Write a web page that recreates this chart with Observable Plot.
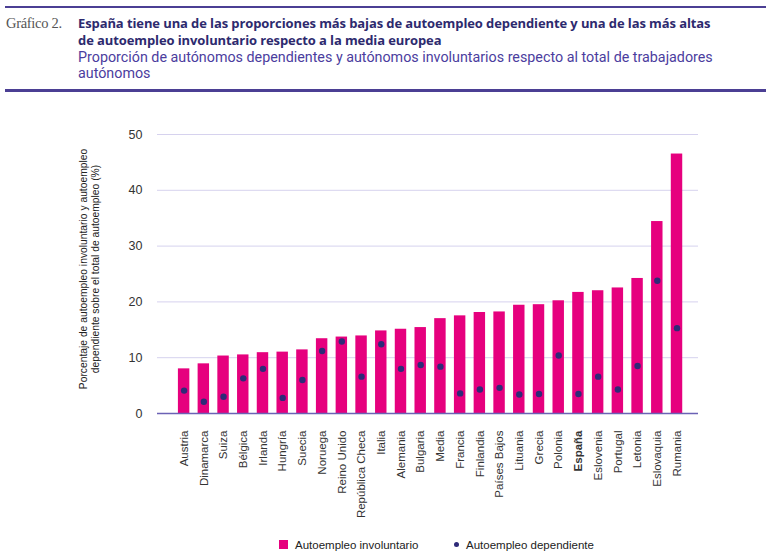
<!DOCTYPE html>
<html>
<head>
<meta charset="utf-8">
<script src="https://cdn.jsdelivr.net/npm/d3@7"></script>
<script src="https://cdn.jsdelivr.net/npm/@observablehq/plot@0.6"></script>
<style>
  html, body { margin: 0; padding: 0; background: #fff; }
  #wrap { position: relative; width: 768px; height: 559px; overflow: hidden; font-family: "Liberation Sans", Arial, sans-serif; }
  .rule { position: absolute; left: 5px; width: 761px; background: #4b3f94; }
  #kicker { position: absolute; left: 6px; top: 15px; font-family: "Liberation Serif", "DejaVu Serif", serif; font-size: 14.5px; line-height: 17px; color: #555; white-space: nowrap; letter-spacing: -0.3px; }
  #title { position: absolute; left: 78px; top: 15px; font-family: "Open Sans", Roboto, sans-serif; font-weight: 700; font-size: 13px; line-height: 17px; color: #2d2a6e; white-space: nowrap; letter-spacing: -0.1px; }
  #subtitle { position: absolute; left: 78px; top: 48.5px; font-family: Roboto, "Liberation Sans", sans-serif; font-size: 14.3px; line-height: 16px; color: #4b3d9e; white-space: nowrap; }
  #chart { position: absolute; left: 0; top: 95px; }
  #legend { position: absolute; top: 537px; left: 0; width: 768px; height: 16px; font-size: 11.5px; color: #222; }
  .li { position: absolute; top: 0; line-height: 16px; white-space: nowrap; }
  .sw { display: inline-block; vertical-align: middle; margin-right: 7px; position: relative; top: -1px; }
</style>
</head>
<body>
<div id="wrap">
  <div class="rule" style="top:6px;height:2px;"></div>
  <div id="kicker">Gráfico 2.</div>
  <div id="title">España tiene una de las proporciones más bajas de autoempleo dependiente y una de las más altas<br>de autoempleo involuntario respecto a la media europea</div>
  <div id="subtitle">Proporción de autónomos dependientes y autónomos involuntarios respecto al total de trabajadores<br>autónomos</div>
  <div class="rule" style="top:89px;height:2.5px;"></div>
  <div id="chart"></div>
  <div id="legend">
    <div class="li" style="left:279px;"><span class="sw" style="width:9px;height:9px;background:#e6007e;"></span>Autoempleo involuntario</div>
    <div class="li" style="left:454px;"><span class="sw" style="width:5px;height:5px;border-radius:50%;background:#2e2a78;margin-right:7px;"></span>Autoempleo dependiente</div>
  </div>
</div>
<script>
const countries = ["Austria","Dinamarca","Suiza","Bélgica","Irlanda","Hungría","Suecia","Noruega","Reino Unido","República Checa","Italia","Alemania","Bulgaria","Media","Francia","Finlandia","Países Bajos","Lituania","Grecia","Polonia","España","Eslovenia","Portugal","Letonia","Eslovaquia","Rumania"];
const involuntario = [8.0,8.9,10.3,10.5,10.9,11.0,11.4,13.4,13.7,13.9,14.8,15.1,15.4,17.0,17.5,18.1,18.2,19.4,19.5,20.2,21.7,22.0,22.5,24.2,34.4,46.5];
const dependiente = [4.1,2.1,3.0,6.3,8.0,2.8,6.0,11.2,12.9,6.6,12.4,8.0,8.7,8.4,3.6,4.3,4.6,3.4,3.5,10.4,3.5,6.6,4.3,8.5,23.8,15.3];
const yTicks = [0,10,20,30,40,50];
const yLabel = "Porcentaje de autoempleo involuntario y autoempleo\ndependiente sobre el total de autoempleo (%)";

const data = countries.map((c, i) => ({pais: c, inv: involuntario[i], dep: dependiente[i]}));

const chart = Plot.plot({
  width: 768,
  height: 433,
  marginTop: 39,
  marginBottom: 115,
  marginLeft: 157,
  marginRight: 70,
  style: {fontFamily: "Liberation Sans, Arial, sans-serif", fontSize: "11.5px", color: "#333", background: "transparent"},
  x: {domain: countries, paddingInner: 0.42, paddingOuter: 0.93, align: 0.57, round: false},
  y: {domain: [0, 50]},
  marks: [
    Plot.gridY(yTicks, {stroke: "#d6d2ee", strokeOpacity: 1, strokeWidth: 1}),
    Plot.barY(data, {x: "pais", y: "inv", fill: "#e6007e"}),
    Plot.ruleY([0], {stroke: "#6b62b5", strokeWidth: 1.5}),
    Plot.dot(data, {x: "pais", y: "dep", fill: "#2e2a78", r: 3.2}),
    Plot.axisY(yTicks, {tickSize: 0, tickPadding: 15, fontSize: 12.5, label: null}),
    Plot.text([yLabel], {frameAnchor: "left", rotate: -90, dx: -68, dy: -5, fontSize: 10.3, lineHeight: 1.17, fill: "#222", textAnchor: "middle", lineAnchor: "middle"}),
    Plot.axisX({tickSize: 0, tickPadding: 17, tickRotate: -90, fontSize: 11.5, label: null})
  ]
});

d3.select(chart).selectAll("text").filter(function() { return this.textContent === "España"; }).attr("font-weight", "bold");
document.getElementById("chart").appendChild(chart);
</script>
</body>
</html>
